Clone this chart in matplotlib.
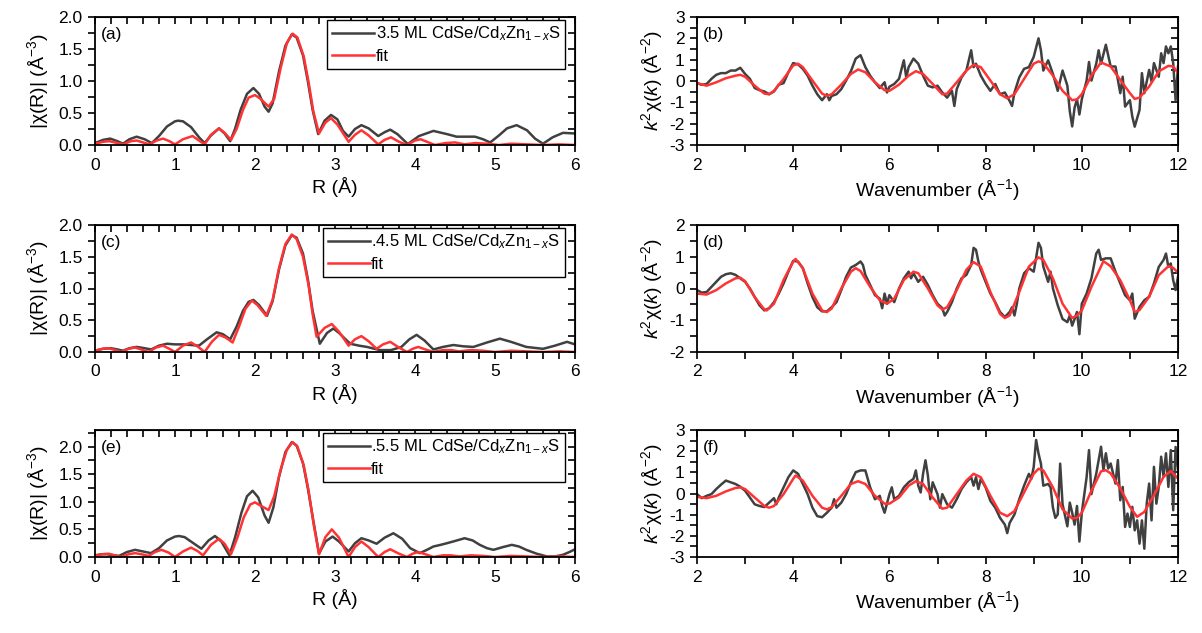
import matplotlib
matplotlib.use("Agg")
import matplotlib.pyplot as plt
from matplotlib.ticker import MultipleLocator, FormatStrFormatter

plt.rcParams['font.family'] = ['Liberation Sans', 'DejaVu Sans']
plt.rcParams['mathtext.fontset'] = 'custom'
plt.rcParams['mathtext.rm'] = 'Liberation Sans'
plt.rcParams['mathtext.it'] = 'Liberation Sans:italic'
plt.rcParams['axes.unicode_minus'] = False

GRAY = '#404040'
RED = '#ff3333'

# ---- |chi(R)| panels: (R, value) ----
a_exp = [(0.00, 0.03), (0.10, 0.08), (0.19, 0.10), (0.28, 0.06), (0.35, 0.02), (0.43, 0.09),
         (0.52, 0.13), (0.62, 0.09), (0.71, 0.03), (0.80, 0.14), (0.90, 0.29), (1.00, 0.37),
         (1.04, 0.38), (1.10, 0.37), (1.20, 0.28), (1.30, 0.12), (1.37, 0.03), (1.45, 0.15),
         (1.55, 0.26), (1.62, 0.18), (1.69, 0.06), (1.75, 0.25), (1.82, 0.55), (1.90, 0.80),
         (1.98, 0.89), (2.05, 0.80), (2.12, 0.60), (2.17, 0.52), (2.22, 0.65), (2.30, 1.15),
         (2.38, 1.55), (2.46, 1.73), (2.52, 1.68), (2.60, 1.40), (2.66, 1.00), (2.72, 0.55),
         (2.79, 0.17), (2.87, 0.38), (2.95, 0.47), (3.03, 0.40), (3.10, 0.22), (3.17, 0.13),
         (3.25, 0.25), (3.33, 0.31), (3.42, 0.26), (3.54, 0.14), (3.62, 0.20), (3.69, 0.24),
         (3.78, 0.17), (3.91, 0.015), (4.05, 0.14), (4.23, 0.22), (4.40, 0.17), (4.52, 0.13),
         (4.65, 0.13), (4.75, 0.13), (4.85, 0.09), (4.94, 0.04), (5.05, 0.15), (5.15, 0.26),
         (5.27, 0.31), (5.40, 0.23), (5.50, 0.10), (5.60, 0.02), (5.72, 0.12), (5.85, 0.19),
         (6.00, 0.18)]
a_fit = [(0.00, 0.02), (0.10, 0.05), (0.18, 0.06), (0.28, 0.03), (0.35, 0.01), (0.45, 0.06),
         (0.52, 0.07), (0.60, 0.04), (0.68, 0.01), (0.77, 0.07), (0.85, 0.10), (0.93, 0.06),
         (1.00, 0.01), (1.10, 0.09), (1.22, 0.14), (1.30, 0.07), (1.37, 0.01), (1.45, 0.16),
         (1.55, 0.26), (1.62, 0.19), (1.70, 0.08), (1.77, 0.25), (1.85, 0.55), (1.92, 0.74),
         (2.00, 0.78), (2.07, 0.72), (2.17, 0.60), (2.24, 0.72), (2.32, 1.20), (2.40, 1.60),
         (2.47, 1.74), (2.53, 1.68), (2.61, 1.38), (2.67, 0.98), (2.73, 0.52), (2.80, 0.18),
         (2.88, 0.35), (2.95, 0.42), (3.03, 0.32), (3.17, 0.05), (3.25, 0.16), (3.33, 0.23),
         (3.42, 0.15), (3.54, 0.01), (3.62, 0.08), (3.70, 0.12), (3.80, 0.05), (3.90, 0.00),
         (4.00, 0.07), (4.07, 0.09), (4.15, 0.05), (4.25, 0.00), (4.38, 0.03), (4.50, 0.04),
         (4.62, 0.01), (4.75, 0.03), (4.90, 0.02), (5.05, 0.00), (5.20, 0.02), (5.40, 0.01),
         (5.60, 0.00), (5.80, 0.01), (6.00, 0.00)]

c_exp = [(0.00, 0.02), (0.10, 0.05), (0.20, 0.06), (0.28, 0.04), (0.35, 0.02), (0.43, 0.06),
         (0.52, 0.08), (0.62, 0.06), (0.70, 0.04), (0.80, 0.10), (0.90, 0.13), (1.00, 0.12),
         (1.10, 0.12), (1.20, 0.11), (1.30, 0.10), (1.40, 0.20), (1.52, 0.31), (1.60, 0.28),
         (1.69, 0.20), (1.77, 0.40), (1.85, 0.65), (1.92, 0.79), (1.98, 0.82), (2.05, 0.74),
         (2.15, 0.57), (2.22, 0.80), (2.30, 1.30), (2.38, 1.68), (2.46, 1.84), (2.52, 1.80),
         (2.60, 1.55), (2.66, 1.15), (2.72, 0.65), (2.81, 0.13), (2.90, 0.30), (2.98, 0.37),
         (3.05, 0.30), (3.19, 0.13), (3.30, 0.10), (3.40, 0.08), (3.56, 0.03), (3.70, 0.03),
         (3.83, 0.08), (3.93, 0.20), (4.02, 0.27), (4.12, 0.18), (4.23, 0.04), (4.35, 0.08),
         (4.48, 0.11), (4.60, 0.09), (4.73, 0.08), (4.90, 0.15), (5.06, 0.21), (5.20, 0.16),
         (5.39, 0.08), (5.60, 0.05), (5.75, 0.10), (5.90, 0.16), (6.00, 0.12)]
c_fit = [(0.00, 0.02), (0.09, 0.05), (0.17, 0.06), (0.25, 0.03), (0.33, 0.00), (0.42, 0.05),
         (0.50, 0.07), (0.58, 0.04), (0.67, 0.00), (0.76, 0.07), (0.85, 0.10), (0.93, 0.05),
         (1.00, 0.00), (1.10, 0.10), (1.20, 0.15), (1.29, 0.08), (1.37, 0.00), (1.46, 0.16),
         (1.55, 0.27), (1.63, 0.23), (1.72, 0.15), (1.80, 0.40), (1.88, 0.68), (1.96, 0.81),
         (2.03, 0.74), (2.14, 0.57), (2.22, 0.82), (2.30, 1.32), (2.38, 1.70), (2.46, 1.85),
         (2.52, 1.78), (2.60, 1.50), (2.67, 1.05), (2.72, 0.60), (2.77, 0.24), (2.87, 0.38),
         (2.96, 0.44), (3.05, 0.32), (3.17, 0.10), (3.25, 0.20), (3.33, 0.25), (3.42, 0.17),
         (3.52, 0.05), (3.60, 0.12), (3.69, 0.16), (3.80, 0.07), (3.90, 0.00), (3.97, 0.05),
         (4.04, 0.08), (4.13, 0.04), (4.23, 0.00), (4.35, 0.03), (4.45, 0.03), (4.55, 0.01),
         (4.70, 0.03), (4.85, 0.02), (5.00, 0.00), (5.20, 0.02), (5.40, 0.01), (5.60, 0.00),
         (5.80, 0.01), (6.00, 0.00)]

e_exp = [(0.00, 0.03), (0.08, 0.05), (0.15, 0.05), (0.23, 0.03), (0.30, 0.02), (0.40, 0.09),
         (0.50, 0.13), (0.60, 0.10), (0.70, 0.07), (0.80, 0.16), (0.90, 0.30), (1.00, 0.37),
         (1.05, 0.38), (1.12, 0.36), (1.22, 0.26), (1.33, 0.15), (1.42, 0.30), (1.50, 0.38),
         (1.58, 0.28), (1.68, 0.03), (1.75, 0.35), (1.83, 0.80), (1.90, 1.10), (1.97, 1.20),
         (2.04, 1.08), (2.12, 0.75), (2.17, 0.62), (2.23, 0.90), (2.30, 1.45), (2.38, 1.90),
         (2.46, 2.08), (2.52, 2.02), (2.60, 1.70), (2.66, 1.25), (2.73, 0.65), (2.80, 0.06),
         (2.88, 0.28), (2.97, 0.37), (3.05, 0.28), (3.17, 0.10), (3.25, 0.25), (3.33, 0.34),
         (3.42, 0.30), (3.52, 0.24), (3.62, 0.35), (3.73, 0.43), (3.84, 0.33), (3.94, 0.16),
         (4.06, 0.07), (4.15, 0.13), (4.23, 0.19), (4.32, 0.22), (4.40, 0.25), (4.50, 0.29),
         (4.62, 0.34), (4.72, 0.30), (4.81, 0.22), (4.90, 0.16), (4.98, 0.13), (5.10, 0.18),
         (5.21, 0.22), (5.30, 0.19), (5.39, 0.13), (5.52, 0.06), (5.65, 0.01), (5.75, 0.01),
         (5.85, 0.04), (5.93, 0.09), (6.00, 0.14)]
e_fit = [(0.00, 0.02), (0.09, 0.05), (0.17, 0.06), (0.25, 0.03), (0.33, 0.00), (0.42, 0.05),
         (0.50, 0.07), (0.58, 0.05), (0.67, 0.02), (0.75, 0.09), (0.83, 0.13), (0.92, 0.08),
         (1.00, 0.00), (1.10, 0.10), (1.20, 0.17), (1.28, 0.11), (1.35, 0.03), (1.45, 0.22),
         (1.55, 0.33), (1.62, 0.24), (1.70, 0.05), (1.78, 0.35), (1.86, 0.72), (1.94, 0.95),
         (2.00, 0.99), (2.07, 0.93), (2.17, 0.85), (2.24, 1.10), (2.32, 1.58), (2.40, 1.95),
         (2.47, 2.08), (2.53, 2.00), (2.61, 1.65), (2.67, 1.20), (2.73, 0.62), (2.80, 0.05),
         (2.88, 0.36), (2.96, 0.50), (3.05, 0.35), (3.17, 0.00), (3.25, 0.18), (3.33, 0.28),
         (3.42, 0.18), (3.54, 0.00), (3.62, 0.09), (3.69, 0.14), (3.80, 0.06), (3.90, 0.00),
         (3.97, 0.06), (4.04, 0.09), (4.13, 0.05), (4.23, 0.00), (4.35, 0.03), (4.45, 0.03),
         (4.55, 0.01), (4.70, 0.03), (4.85, 0.02), (5.00, 0.00), (5.20, 0.02), (5.40, 0.01),
         (5.60, 0.00), (5.80, 0.01), (6.00, 0.00)]

# ---- k^2 chi(k) panels: (k, value) ----
b_exp = [(2.0, -0.10), (2.1, -0.18), (2.2, -0.14), (2.3, 0.10), (2.4, 0.29), (2.5, 0.37),
         (2.6, 0.37), (2.7, 0.49), (2.8, 0.49), (2.9, 0.62), (3.0, 0.33), (3.1, 0.10),
         (3.2, -0.33), (3.3, -0.43), (3.4, -0.49), (3.5, -0.62), (3.6, -0.49), (3.7, -0.17),
         (3.8, -0.10), (3.9, 0.41), (4.0, 0.84), (4.1, 0.78), (4.2, 0.57), (4.3, 0.25),
         (4.4, -0.22), (4.5, -0.62), (4.6, -0.90), (4.7, -0.62), (4.75, -0.90), (4.8, -0.70),
         (4.9, -0.62), (5.0, -0.38), (5.1, 0.02), (5.2, 0.46), (5.3, 1.05), (5.4, 1.21),
         (5.5, 0.65), (5.6, 0.25), (5.7, -0.06), (5.8, -0.33), (5.9, -0.06), (5.95, -0.54),
         (6.0, -0.27), (6.1, -0.14), (6.2, 0.10), (6.3, 0.97), (6.35, 0.17), (6.4, 0.65),
         (6.5, 1.05), (6.6, 0.81), (6.7, 0.25), (6.8, -0.22), (6.9, -0.30), (7.0, -0.22),
         (7.1, -0.54), (7.2, -0.78), (7.3, -0.46), (7.35, -1.17), (7.4, -0.38), (7.5, 0.17),
         (7.6, 0.49), (7.7, 1.44), (7.75, 0.65), (7.8, 0.81), (7.9, 0.25), (8.0, -0.14),
         (8.1, -0.46), (8.2, -0.14), (8.3, -0.62), (8.4, -0.54), (8.5, -0.94), (8.55, -1.17),
         (8.6, -0.54), (8.7, 0.17), (8.8, 0.57), (8.9, 0.65), (9.0, 1.13), (9.1, 2.00),
         (9.15, 1.44), (9.2, 0.49), (9.3, 0.97), (9.4, 0.33), (9.5, -0.46), (9.6, 0.49),
         (9.7, -0.22), (9.75, -1.41), (9.8, -2.13), (9.85, -1.25), (9.9, -0.86), (9.95, -1.57),
         (10.0, -0.86), (10.1, 0.02), (10.15, 0.89), (10.2, 0.02), (10.3, 0.81), (10.35, 1.44),
         (10.4, 0.81), (10.5, 1.70), (10.6, 0.68), (10.7, 0.68), (10.8, -0.57), (10.85, 0.20),
         (10.9, -1.20), (11.0, -0.90), (11.05, -1.67), (11.1, -2.14), (11.2, -1.36), (11.25, 0.37),
         (11.3, -0.57), (11.4, 0.52), (11.45, -0.02), (11.5, 0.84), (11.6, 0.20), (11.65, 1.30),
         (11.7, 0.84), (11.75, 1.62), (11.8, 1.30), (11.85, 1.62), (11.9, 0.84), (11.95, -0.90),
         (12.0, 0.68)]
b_fit = [(2.0, -0.10), (2.2, -0.22), (2.4, -0.06), (2.6, 0.13), (2.8, 0.25), (2.9, 0.29),
         (3.0, 0.20), (3.2, -0.22), (3.4, -0.59), (3.5, -0.62), (3.6, -0.46), (3.8, 0.10),
         (4.0, 0.73), (4.1, 0.81), (4.2, 0.65), (4.4, 0.02), (4.6, -0.59), (4.7, -0.70),
         (4.8, -0.62), (5.0, -0.17), (5.2, 0.33), (5.35, 0.54), (5.5, 0.41), (5.7, -0.06),
         (5.9, -0.43), (6.0, -0.46), (6.2, -0.17), (6.4, 0.25), (6.55, 0.46), (6.7, 0.33),
         (6.9, -0.14), (7.1, -0.62), (7.2, -0.59), (7.4, -0.06), (7.6, 0.49), (7.75, 0.76),
         (7.9, 0.65), (8.1, 0.02), (8.3, -0.62), (8.45, -0.81), (8.6, -0.62), (8.8, 0.10),
         (9.0, 0.81), (9.1, 0.92), (9.2, 0.84), (9.4, 0.25), (9.6, -0.46), (9.8, -0.90),
         (9.9, -0.86), (10.0, -0.62), (10.2, 0.25), (10.4, 0.87), (10.6, 0.68), (10.8, 0.05),
         (11.0, -0.57), (11.1, -0.84), (11.2, -0.78), (11.4, -0.26), (11.6, 0.45), (11.8, 0.71),
         (11.9, 0.68), (12.0, 0.37)]

d_exp = [(2.0, -0.05), (2.1, -0.13), (2.2, -0.11), (2.3, 0.05), (2.4, 0.21), (2.5, 0.37),
         (2.6, 0.45), (2.7, 0.48), (2.8, 0.43), (2.9, 0.32), (3.0, 0.21), (3.1, 0.00),
         (3.2, -0.27), (3.3, -0.53), (3.4, -0.69), (3.5, -0.62), (3.6, -0.43), (3.7, -0.16),
         (3.8, 0.16), (3.9, 0.53), (4.0, 0.87), (4.1, 0.85), (4.2, 0.64), (4.3, 0.16),
         (4.4, -0.27), (4.5, -0.59), (4.6, -0.72), (4.7, -0.72), (4.8, -0.59), (4.9, -0.43),
         (5.0, -0.05), (5.1, 0.37), (5.2, 0.66), (5.3, 0.74), (5.4, 0.85), (5.45, 0.74),
         (5.5, 0.43), (5.6, 0.11), (5.7, -0.21), (5.8, -0.32), (5.85, -0.62), (5.9, -0.16),
         (5.95, -0.48), (6.0, -0.21), (6.1, -0.43), (6.2, 0.00), (6.3, 0.32), (6.4, 0.53),
         (6.45, 0.32), (6.5, 0.48), (6.6, 0.21), (6.7, 0.37), (6.8, 0.11), (6.9, -0.21),
         (7.0, -0.48), (7.1, -0.62), (7.15, -0.85), (7.2, -0.74), (7.3, -0.43), (7.4, 0.00),
         (7.5, 0.32), (7.6, 0.43), (7.7, 0.74), (7.75, 1.28), (7.8, 1.22), (7.85, 0.85),
         (7.9, 0.59), (8.0, 0.21), (8.1, -0.16), (8.2, -0.43), (8.3, -0.74), (8.4, -0.90),
         (8.5, -0.74), (8.55, -0.59), (8.6, -0.85), (8.65, -0.48), (8.7, 0.00), (8.8, 0.48),
         (8.9, 0.64), (9.0, 0.53), (9.05, 0.96), (9.1, 1.44), (9.15, 1.28), (9.2, 0.69),
         (9.3, 0.21), (9.35, 0.53), (9.4, 0.00), (9.5, -0.53), (9.6, -0.96), (9.7, -1.06),
         (9.75, -0.85), (9.8, -1.17), (9.85, -0.96), (9.9, -0.74), (9.95, -1.44), (10.0, -0.48),
         (10.1, -0.16), (10.2, 0.32), (10.3, 1.10), (10.35, 1.22), (10.4, 0.90), (10.5, 0.95),
         (10.6, 0.95), (10.7, 0.53), (10.8, 0.16), (10.9, -0.21), (11.0, -0.37), (11.05, -0.16),
         (11.1, -0.95), (11.2, -0.58), (11.3, -0.37), (11.4, -0.26), (11.5, 0.16), (11.6, 0.68),
         (11.7, 0.90), (11.75, 1.10), (11.8, 0.68), (11.85, 0.79), (11.9, 0.26), (11.95, -0.05),
         (12.0, 0.37)]
d_fit = [(2.0, -0.16), (2.2, -0.19), (2.4, -0.05), (2.6, 0.16), (2.8, 0.32), (2.9, 0.34),
         (3.0, 0.23), (3.2, -0.27), (3.4, -0.66), (3.45, -0.69), (3.6, -0.48), (3.8, 0.27),
         (4.0, 0.85), (4.05, 0.93), (4.2, 0.64), (4.4, -0.16), (4.6, -0.69), (4.7, -0.74),
         (4.8, -0.63), (5.0, 0.00), (5.2, 0.53), (5.3, 0.64), (5.4, 0.55), (5.6, 0.05),
         (5.8, -0.37), (5.95, -0.48), (6.1, -0.32), (6.3, 0.27), (6.5, 0.53), (6.6, 0.48),
         (6.8, 0.00), (7.0, -0.53), (7.1, -0.66), (7.2, -0.59), (7.4, -0.05), (7.6, 0.59),
         (7.75, 0.83), (7.9, 0.69), (8.1, -0.11), (8.3, -0.80), (8.4, -0.93), (8.5, -0.85),
         (8.7, -0.11), (8.9, 0.69), (9.1, 0.98), (9.2, 0.90), (9.4, 0.32), (9.6, -0.48),
         (9.8, -0.93), (9.9, -0.85), (10.0, -0.69), (10.2, 0.05), (10.45, 0.86), (10.6, 0.70),
         (10.8, 0.26), (11.0, -0.37), (11.1, -0.74), (11.2, -0.68), (11.4, -0.26), (11.6, 0.42),
         (11.8, 0.70), (11.9, 0.65), (12.0, 0.50)]

f_exp = [(2.0, -0.03), (2.1, -0.22), (2.2, -0.11), (2.3, -0.03), (2.4, 0.21), (2.5, 0.42),
         (2.6, 0.61), (2.7, 0.53), (2.8, 0.45), (2.9, 0.32), (3.0, 0.13), (3.1, -0.19),
         (3.2, -0.51), (3.3, -0.59), (3.4, -0.64), (3.5, -0.43), (3.6, -0.22), (3.65, -0.51),
         (3.7, -0.19), (3.8, 0.29), (3.9, 0.77), (4.0, 1.09), (4.1, 0.93), (4.2, 0.45),
         (4.3, -0.03), (4.4, -0.67), (4.5, -1.07), (4.6, -1.12), (4.7, -0.91), (4.8, -0.67),
         (4.85, -0.27), (4.9, -0.67), (5.0, -0.43), (5.1, -0.03), (5.2, 0.53), (5.3, 1.01),
         (5.4, 1.09), (5.5, 1.09), (5.6, 0.29), (5.7, -0.27), (5.8, -0.11), (5.85, -0.59),
         (5.9, -0.91), (6.0, -0.03), (6.05, 0.29), (6.1, -0.27), (6.2, -0.11), (6.3, 0.29),
         (6.4, 0.53), (6.5, 0.69), (6.55, 1.09), (6.6, 0.37), (6.65, 0.05), (6.7, 0.93),
         (6.75, 1.57), (6.8, 0.85), (6.85, -0.27), (6.9, 0.53), (7.0, -0.03), (7.05, -0.67),
         (7.1, -0.03), (7.2, -0.51), (7.3, -0.67), (7.4, -0.27), (7.5, 0.21), (7.6, 0.53),
         (7.7, 0.77), (7.75, 0.37), (7.8, 0.77), (7.85, 0.21), (7.9, 0.69), (8.0, 0.29),
         (8.1, -0.35), (8.2, -0.67), (8.3, -1.15), (8.4, -1.47), (8.45, -1.87), (8.5, -1.39),
         (8.6, -0.99), (8.7, -0.27), (8.8, 0.37), (8.9, 0.93), (8.95, 0.69), (9.0, 1.25),
         (9.05, 2.53), (9.1, 1.89), (9.15, 1.41), (9.2, 0.37), (9.3, 0.45), (9.35, 0.29),
         (9.4, -0.67), (9.45, -1.15), (9.5, -0.99), (9.55, 1.41), (9.6, -0.51), (9.7, -1.55),
         (9.75, -0.43), (9.8, -0.91), (9.85, -1.47), (9.9, -0.59), (9.95, -2.27), (10.0, -0.91),
         (10.1, 0.77), (10.15, 2.05), (10.2, -0.03), (10.3, 0.93), (10.4, 2.21), (10.45, 1.09),
         (10.5, 1.90), (10.55, 1.18), (10.6, 1.42), (10.7, 0.47), (10.75, 1.58), (10.8, -0.32),
         (10.85, 0.31), (10.9, -1.58), (10.95, -0.95), (11.0, -1.58), (11.05, -0.63), (11.1, -1.74),
         (11.15, -1.27), (11.2, -2.37), (11.25, -1.27), (11.3, -2.61), (11.35, -0.48), (11.4, 0.47),
         (11.45, -1.27), (11.5, 1.26), (11.55, -0.48), (11.6, 0.31), (11.65, 1.74), (11.7, 0.79),
         (11.75, 1.90), (11.8, 0.31), (11.85, 2.05), (11.9, -0.79), (11.95, 2.20), (12.0, 1.10)]
f_fit = [(2.0, -0.16), (2.2, -0.22), (2.4, -0.11), (2.6, 0.10), (2.8, 0.26), (2.9, 0.29),
         (3.0, 0.21), (3.2, -0.19), (3.4, -0.59), (3.5, -0.67), (3.6, -0.59), (3.8, -0.03),
         (4.0, 0.69), (4.05, 0.85), (4.2, 0.61), (4.4, -0.11), (4.6, -0.67), (4.7, -0.75),
         (4.8, -0.64), (5.0, -0.11), (5.2, 0.45), (5.35, 0.58), (5.5, 0.45), (5.7, -0.11),
         (5.9, -0.48), (6.0, -0.48), (6.2, -0.19), (6.4, 0.37), (6.55, 0.58), (6.7, 0.45),
         (6.9, -0.19), (7.1, -0.72), (7.2, -0.67), (7.4, -0.03), (7.6, 0.61), (7.75, 0.93),
         (7.9, 0.77), (8.1, -0.11), (8.3, -0.91), (8.45, -1.07), (8.6, -0.83), (8.8, 0.05),
         (9.0, 0.93), (9.1, 1.17), (9.2, 1.09), (9.4, 0.29), (9.6, -0.75), (9.8, -1.18),
         (9.9, -1.15), (10.0, -0.91), (10.2, 0.13), (10.4, 1.05), (10.5, 1.10), (10.6, 0.95),
         (10.8, 0.24), (11.0, -0.63), (11.15, -1.10), (11.3, -0.87), (11.5, -0.08), (11.7, 0.79),
         (11.85, 1.06), (12.0, 0.71)]

legend_names = ['3.5 ML CdSe/Cd$_x$Zn$_{1-x}$S',
                '.4.5 ML CdSe/Cd$_x$Zn$_{1-x}$S',
                '.5.5 ML CdSe/Cd$_x$Zn$_{1-x}$S']
r_series = [(a_exp, a_fit), (c_exp, c_fit), (e_exp, e_fit)]
k_series = [(b_exp, b_fit), (d_exp, d_fit), (f_exp, f_fit)]
r_labels = ['(a)', '(c)', '(e)']
k_labels = ['(b)', '(d)', '(f)']
r_ylims = [(0, 2.0), (0, 2.0), (0, 2.3)]
k_ylims = [(-3, 3), (-2, 2), (-3, 3)]

W, H = 1202, 633
rows = [(17, 145), (225, 352), (430, 557)]   # pixel top / bottom of each row
left_x = (95, 575)
right_x = (697, 1178)


def add_box(x0, x1, top, bottom):
    return fig.add_axes([x0 / W, 1 - bottom / H, (x1 - x0) / W, (bottom - top) / H])


def style(ax, xmaj, xmin, ymaj, ymin):
    for s in ax.spines.values():
        s.set_linewidth(1.3)
    ax.xaxis.set_major_locator(MultipleLocator(xmaj))
    ax.xaxis.set_minor_locator(MultipleLocator(xmin))
    ax.yaxis.set_major_locator(MultipleLocator(ymaj))
    ax.yaxis.set_minor_locator(MultipleLocator(ymin))
    ax.tick_params(which='both', direction='out', length=5, width=1.2,
                   labelsize=12.5, pad=4)
    top = ax.secondary_xaxis('top')
    top.xaxis.set_major_locator(MultipleLocator(xmaj))
    top.xaxis.set_minor_locator(MultipleLocator(xmin))
    top.tick_params(which='both', direction='in', length=5, width=1.2, labeltop=False)
    right = ax.secondary_yaxis('right')
    right.yaxis.set_major_locator(MultipleLocator(ymaj))
    right.yaxis.set_minor_locator(MultipleLocator(ymin))
    right.tick_params(which='both', direction='in', length=5, width=1.2, labelright=False)


fig = plt.figure(figsize=(W / 100, H / 100), dpi=100)

for i, (top_px, bot_px) in enumerate(rows):
    # left column: |chi(R)|
    ax = add_box(left_x[0], left_x[1], top_px, bot_px)
    exp, fit = r_series[i]
    ax.plot([p[0] for p in exp], [p[1] for p in exp], color=GRAY, lw=1.8, label=legend_names[i])
    ax.plot([p[0] for p in fit], [p[1] for p in fit], color=RED, lw=1.8, label='fit')
    ax.set_xlim(0, 6)
    ax.set_ylim(*r_ylims[i])
    style(ax, 1, 0.2, 0.5, 0.25)
    ax.yaxis.set_major_formatter(FormatStrFormatter('%.1f'))
    ax.set_xlabel('R (Å)', fontsize=14, labelpad=3)
    ax.set_ylabel('|χ(R)| (Å$^{-3}$)', fontsize=14, labelpad=5)
    ax.text(0.012, 0.92, r_labels[i], transform=ax.transAxes, fontsize=12.5, va='top')
    leg = ax.legend(loc='upper right', bbox_to_anchor=(0.98, 0.98), borderaxespad=0,
                    fontsize=12, handlelength=2.5, handletextpad=0.1, borderpad=0.3,
                    labelspacing=0.35, fancybox=False, framealpha=1)
    leg.get_frame().set_edgecolor('black')
    leg.get_frame().set_linewidth(1.0)

    # right column: k^2 chi(k)
    ax = add_box(right_x[0], right_x[1], top_px, bot_px)
    exp, fit = k_series[i]
    ax.plot([p[0] for p in exp], [p[1] for p in exp], color=GRAY, lw=1.8)
    ax.plot([p[0] for p in fit], [p[1] for p in fit], color=RED, lw=1.8)
    ax.set_xlim(2, 12)
    ax.set_ylim(*k_ylims[i])
    style(ax, 2, 1, 1, 0.5)
    ax.set_xlabel('Wavenumber (Å$^{-1}$)', fontsize=14, labelpad=3)
    ax.set_ylabel('$k^{2}$χ($k$) (Å$^{-2}$)', fontsize=14, labelpad=3)
    ax.text(0.012, 0.92, k_labels[i], transform=ax.transAxes, fontsize=12.5, va='top')

fig.savefig('out.png', dpi=100)
